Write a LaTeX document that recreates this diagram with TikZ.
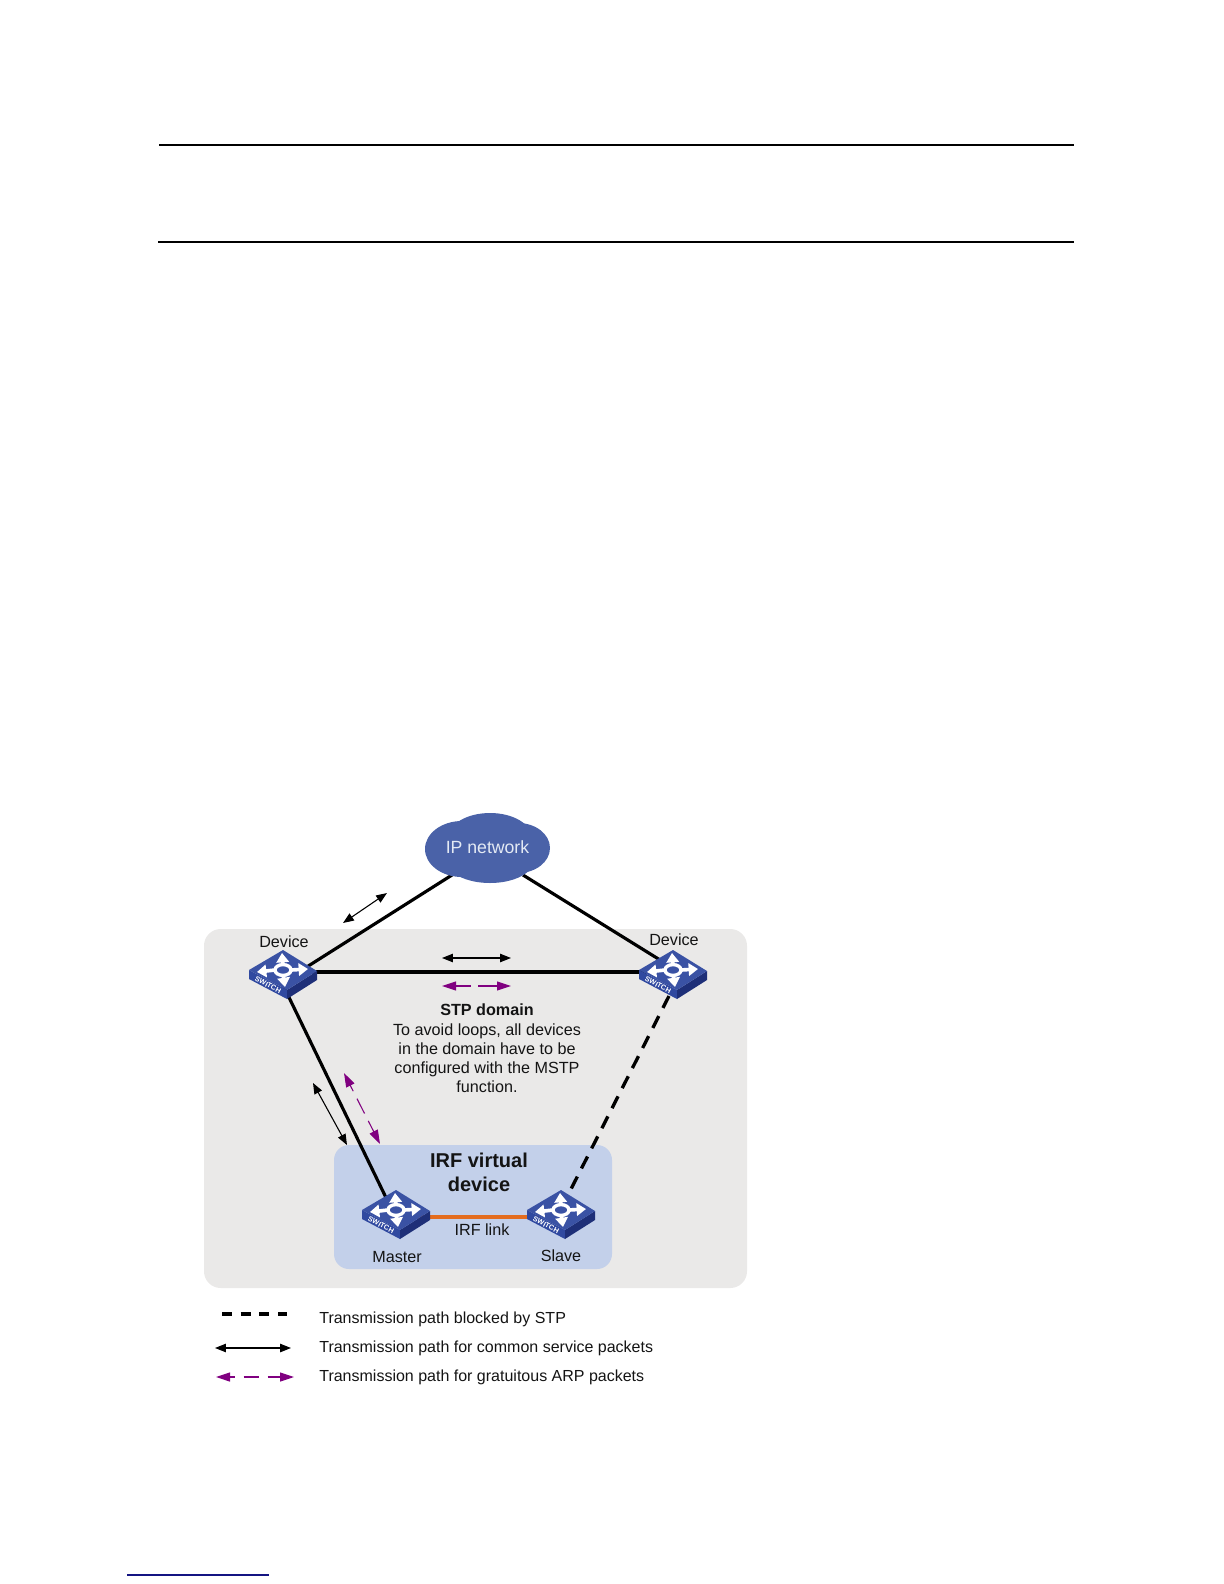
\documentclass[tikz,border=0pt]{standalone}
\usepackage{fontspec}
\setmainfont{Liberation Sans}
\usetikzlibrary{arrows.meta,calc}
\definecolor{panelgrey}{HTML}{EAE9E8}
\definecolor{panelblue}{HTML}{C3D0EA}
\definecolor{cloudblue}{HTML}{4A62A8}
\definecolor{swtop}{HTML}{3A52A4}
\definecolor{swleft}{HTML}{3049A0}
\definecolor{swright}{HTML}{1E2F78}
\definecolor{irforange}{HTML}{E46C1E}
\definecolor{arppurple}{HTML}{800080}
\tikzset{
  thickline/.style={line width=1.9pt,black},
  blockedline/.style={line width=2pt,black,dash pattern=on 8pt off 5.5pt},
  svcarrow/.style={line width=0.65pt,black,{Triangle[length=6.5pt,width=5pt]}-{Triangle[length=6.5pt,width=5pt]}},
  arparrow/.style={line width=0.65pt,arppurple,{Triangle[length=8.4pt,width=5.4pt]}-{Triangle[length=8.4pt,width=5.4pt]}},
  lab/.style={font=\fontsize{9.7pt}{12pt}\selectfont,inner sep=0pt,align=center,text=black!92},
  legendtext/.style={font=\fontsize{9.6pt}{12pt}\selectfont,inner sep=0pt,anchor=west,text=black!92},
  anchorpt/.style={inner sep=0pt,minimum size=0pt},
  rulestyle/.style={line width=1.2pt,black},
  swarrow/.style={line width=2.2pt,white,-{Triangle[length=5.6pt,width=7.4pt]}},
  swtext/.style={rotate=-27.5,text=white,inner sep=0pt,font=\bfseries\fontsize{4.3pt}{5pt}\selectfont}
}
\newcommand{\swlook}[1]{%
  \begin{scope}[shift={(#1)}]
    \fill[swleft] (-34,0) -- (4,20) -- (4,29) -- (-34,9) -- cycle;
    \fill[swright] (4,20) -- (34,1) -- (34,10) -- (4,29) -- cycle;
    \fill[swtop] (0,-20) -- (34,1) -- (4,20) -- (-34,0) -- cycle;
    \draw[swarrow] (0,-4) -- (-1,-17);
    \draw[swarrow] (0,4) -- (2,17);
    \draw[swarrow] (8,0) -- (25,-1);
    \draw[swarrow] (-8,0) -- (-26,2);
    \draw[white,line width=2pt,fill=swtop] (0,0) ellipse (8 and 5.4);
    \node[swtext] (#1t) at (-15,15) {SWITCH};
  \end{scope}}
\begin{document}
\begin{tikzpicture}[x=0.6pt,y=-0.6pt]
\useasboundingbox (0,0) rectangle (1224,1584);
% page rules
\coordinate (r1a) at (159,144.5); \coordinate (r1b) at (1074,144.5);
\coordinate (r2a) at (158,241.5); \coordinate (r2b) at (1074,241.5);
\coordinate (r3a) at (127,1575);  \coordinate (r3b) at (269,1575);
\draw[rulestyle] (r1a) -- (r1b);
\draw[rulestyle] (r2a) -- (r2b);
\draw[line width=0.9pt,color={rgb,255:red,20;green,20;blue,130}] (r3a) -- (r3b);
% panels
\fill[panelgrey,rounded corners=10pt] (204,929) rectangle (747,1288);
\fill[panelblue,rounded corners=9pt] (334,1145) rectangle (612,1269);
% anchors
\node[anchorpt] (cloud) at (487,847) {};
\node[anchorpt] (devL) at (283,970) {};
\node[anchorpt] (devR) at (673,970) {};
\node[anchorpt] (master) at (396,1210) {};
\node[anchorpt] (slave) at (561,1210) {};
% links
\draw[thickline] ($(cloud)+(-35,28)$) -- ($(devL)+(0,12)$);
\draw[thickline] ($(cloud)+(36,28)$) -- ($(devR)+(0,-2)$);
\draw[thickline] ($(devL)+(0,2)$) -- ($(devR)+(0,2)$);
\draw[thickline] ($(devL)+(0,15)$) -- ($(master)+(-4,0)$);
\draw[blockedline] ($(devR)+(-4,26)$) -- ($(slave)+(8,-17)$);
\draw[line width=2.2pt,irforange] ($(master)+(20,7)$) -- ($(slave)+(-20,7)$);
% cloud shape
\fill[cloudblue] (462,849) ellipse (37 and 28);
\fill[cloudblue] (490,838) ellipse (42 and 25);
\fill[cloudblue] (518,848) ellipse (32 and 25);
\fill[cloudblue] (490,860) ellipse (44 and 23);
\node[font=\fontsize{10.6pt}{13pt}\selectfont,text={rgb,255:red,228;green,234;blue,244},inner sep=0pt] (cloudtext) at (487.5,847) {IP network};
% switches
\swlook{devL}
\swlook{devR}
\swlook{master}
\swlook{slave}
% packet arrows
\coordinate (a1a) at (343,923); \coordinate (a1b) at (387,893);
\coordinate (a2a) at (442,958); \coordinate (a2b) at (511,958);
\coordinate (a3a) at (442,986); \coordinate (a3b) at (511,986);
\coordinate (a4a) at (313,1083); \coordinate (a4b) at (347,1145);
\coordinate (a5a) at (344,1073); \coordinate (a5b) at (380,1144);
\draw[svcarrow] (a1a) -- (a1b);
\draw[svcarrow] (a2a) -- (a2b);
\draw[arparrow,dash pattern=on 9pt off 4.5pt on 30pt] (a3a) -- (a3b);
\draw[svcarrow] (a4a) -- (a4b);
\draw[arparrow,dash pattern=on 4pt off 5pt on 10pt off 5pt on 30pt] (a5a) -- (a5b);
% labels
\node[lab] (ldevL) at (284,941.5) {Device};
\node[lab] (ldevR) at (674,939.5) {Device};
\node[lab,font=\bfseries\fontsize{9.7pt}{12pt}\selectfont] (stp) at (487,1010) {STP domain};
\node[lab,font=\fontsize{9.7pt}{11.5pt}\selectfont] (stpbody) at (487,1058) {To avoid loops, all devices\\in the domain have to be\\configured with the MSTP\\function.};
\node[lab,font=\bfseries\fontsize{12pt}{14pt}\selectfont] (irf) at (479,1172.5) {IRF virtual\\device};
\node[lab] (irflink) at (482,1230) {IRF link};
\node[lab] (lmaster) at (397,1257) {Master};
\node[lab] (lslave) at (561,1256) {Slave};
% legend
\coordinate (k1a) at (222,1314); \coordinate (k1b) at (287,1314);
\coordinate (k2a) at (215,1348); \coordinate (k2b) at (291,1348);
\coordinate (k3a) at (216,1377); \coordinate (k3b) at (294,1377);
\draw[line width=1.9pt,black,dash pattern=on 6pt off 5.2pt] (k1a) -- (k1b);
\draw[svcarrow] (k2a) -- (k2b);
\draw[arparrow,dash pattern=on 3pt off 5.4pt on 9pt off 5.4pt on 30pt] (k3a) -- (k3b);
\node[legendtext] (t1) at (319,1319) {Transmission path blocked by STP};
\node[legendtext] (t2) at (319,1348.5) {Transmission path for common service packets};
\node[legendtext] (t3) at (319,1377.5) {Transmission path for gratuitous ARP packets};
\end{tikzpicture}
\end{document}
